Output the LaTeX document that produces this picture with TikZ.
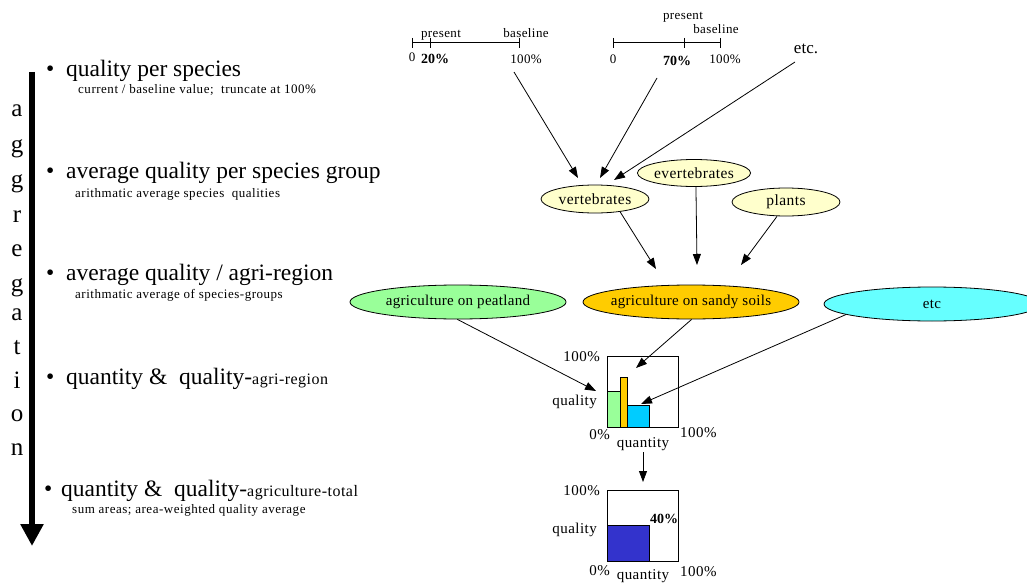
\documentclass[tikz,border=0pt]{standalone}
\usepackage{fontspec}
\setmainfont{Liberation Serif}
\usetikzlibrary{shapes.geometric,arrows.meta}
\definecolor{ylw}{HTML}{FFFFCC}
\definecolor{peat}{HTML}{99FF99}
\definecolor{sandy}{HTML}{FFCC00}
\definecolor{etcc}{HTML}{66FFFF}
\definecolor{cyanbar}{HTML}{00CCFF}
\definecolor{bluebar}{HTML}{3333CC}
\newcommand{\spc}[1]{\addfontfeature{LetterSpace=#1}}
\tikzset{
  big/.style={font=\fontsize{23.5}{26}\selectfont, anchor=base west, inner sep=0},
  sub/.style={font=\fontsize{13}{15}\selectfont\spc{4}, anchor=base west, inner sep=0},
  agg/.style={font=\fontsize{25}{27}\selectfont, anchor=base, inner sep=0},
  sm/.style={font=\fontsize{13}{15}\selectfont\spc{3}, inner sep=0},
  lbl/.style={font=\fontsize{15}{17}\selectfont\spc{3}, inner sep=0},
  grp/.style={ellipse, draw, line width=0.8pt, fill=ylw, minimum width=108, minimum height=28, inner sep=0, font=\fontsize{15.5}{17}\selectfont\spc{3}},
  reg/.style={ellipse, draw, line width=0.8pt, minimum width=216, minimum height=34, inner xsep=-12pt, inner ysep=0pt, font=\fontsize{15}{17}\selectfont\spc{2}},
  arr/.style={line width=0.8pt, -{Triangle[length=11pt,width=8pt]}},
  axis/.style={line width=1pt},
}
\begin{document}
\begin{tikzpicture}[x=1pt,y=-1pt]
\useasboundingbox (0,0) rectangle (1027,583);
% aggregation arrow
\coordinate (at) at (32,72);
\coordinate (ab) at (32,546);
\draw[line width=6pt, -{Triangle[length=22pt,width=22pt]}] (at) -- (ab);
\foreach \l/\y in {a/117, g/152, g/187, r/222, e/256, g/291, a/320, t/354, i/388, o/421, n/455}
  \node[agg] at (17,\y) {\l};
% bullet texts
\node[big] (b1) at (46,77) {\textbullet};
\node[big] (t1) at (66,77) {quality per species};
\node[sub] (s1) at (78,94) {current / baseline value;\ \ truncate at 100\%};
\node[big] (b2) at (46,178) {\textbullet};
\node[big] (t2) at (66,178) {average quality per species group};
\node[sub] (s2) at (75,197) {arithmatic average species\ \ qualities};
\node[big] (b3) at (46,280) {\textbullet};
\node[big] (t3) at (66,280) {average quality / agri-region};
\node[sub] (s3) at (75,298) {arithmatic average of species-groups};
\node[big] (b4) at (46,384) {\textbullet};
\node[big] (t4) at (66,384) {quantity \&\ \ quality-{\fontsize{16}{18}\selectfont\spc{3}agri-region}};
\node[big] (b5) at (44,496) {\textbullet};
\node[big] (t5) at (61,496) {quantity \&\ \ quality-{\fontsize{16}{18}\selectfont\spc{3}agriculture-total}};
\node[sub] (s5) at (72,513) {sum areas; area-weighted quality average};
% scale 1
\draw[axis] (412,43) -- (519,43);
\foreach \x in {412,430,519} \draw[axis] (\x,38) -- (\x,48);
\node[sm, anchor=base] (p1) at (441,38) {present};
\node[sm, anchor=base] (bl1) at (526,38) {baseline};
\node[sm, anchor=base] (z1) at (412,62) {0};
\node[sm, anchor=base, font=\fontsize{14}{16}\selectfont\bfseries] (v1) at (435,64) {20\%};
\node[sm, anchor=base] (h1) at (526,64) {100\%};
% scale 2
\draw[axis] (613,43) -- (720,43);
\foreach \x in {613,684,720} \draw[axis] (\x,38) -- (\x,48);
\node[sm, anchor=base] (p2) at (683,20) {present};
\node[sm, anchor=base] (bl2) at (716,34) {baseline};
\node[sm, anchor=base] (z2) at (613,64) {0};
\node[sm, anchor=base, font=\fontsize{14}{16}\selectfont\bfseries] (v2) at (677,66) {70\%};
\node[sm, anchor=base] (h2) at (725,64) {100\%};
\node[font=\fontsize{17}{19}\selectfont, anchor=base, inner sep=0] (etc1) at (806,54) {etc.};
% group ellipses
\node[grp] (vert) at (595,199) {vertebrates};
\node[grp, minimum height=27] (evert) at (694,173) {evertebrates};
\node[grp] (plants) at (786,202) {plants};
% region ellipses
\node[reg, fill=peat] (peat) at (458,302) {agriculture on peatland};
\node[reg, fill=sandy] (sandy) at (691,302) {agriculture on sandy soils};
\node[reg, fill=etcc] (etc2) at (932,304) {etc};
% arrows top
\coordinate (s1a) at (514,72);
\coordinate (s2a) at (657,78);
\coordinate (e1a) at (795,62);
\coordinate (v1e) at (578,178);
\coordinate (v2e) at (600,178);
\coordinate (v3e) at (614,180);
\draw[arr] (s1a) -- (v1e);
\draw[arr] (s2a) -- (v2e);
\draw[arr] (e1a) -- (v3e);
\coordinate (g1e) at (656,269);
\coordinate (g2e) at (697,265);
\coordinate (g3e) at (741,265);
\draw[arr] (vert.-27) -- (g1e);
\draw[arr] (evert.-82) -- (g2e);
\draw[arr] (plants.-122) -- (g3e);
% chart 1
\fill[peat] (607,391) rectangle (620,427);
\draw[line width=0.8pt] (607,391) rectangle (620,427);
\fill[sandy] (620,377) rectangle (627,427);
\draw[line width=0.8pt] (620,377) rectangle (627,427);
\fill[cyanbar] (627,405) rectangle (649,427);
\draw[line width=0.8pt] (627,405) rectangle (649,427);
\node[draw, line width=0.8pt, anchor=north west, minimum width=71, minimum height=71, inner sep=0] (c1) at (607,356) {};
\node[lbl, anchor=base east] (c1top) at (600,361) {100\%};
\node[lbl, anchor=base east] (c1q) at (597,405) {quality};
\node[lbl, anchor=base east] (c1z) at (610,439) {0\%};
\node[lbl, anchor=base] (c1x) at (643,447) {quantity};
\node[lbl, anchor=base west] (c1r) at (680,437) {100\%};
\coordinate (pe) at (596,391);
\coordinate (se) at (636,368);
\coordinate (ee) at (641,404);
\draw[arr] (peat.-92) -- (pe);
\draw[arr] (sandy.-88) -- (se);
\draw[arr] (etc2.-173) -- (ee);
% chart 2
\fill[bluebar] (607,525) rectangle (649,561);
\draw[line width=0.8pt] (607,525) rectangle (649,561);
\node[draw, line width=0.8pt, anchor=north west, minimum width=71, minimum height=71, inner sep=0] (c2) at (607,490) {};
\node[lbl, anchor=base, font=\fontsize{14}{16}\selectfont\bfseries] (c2v) at (664,523) {40\%};
\node[lbl, anchor=base east] (c2top) at (600,495) {100\%};
\node[lbl, anchor=base east] (c2q) at (597,533) {quality};
\node[lbl, anchor=base east] (c2z) at (610,575) {0\%};
\node[lbl, anchor=base] (c2x) at (643,579) {quantity};
\node[lbl, anchor=base west] (c2r) at (680,576) {100\%};
\coordinate (c1b) at (643,452);
\coordinate (c2a) at (643,482);
\draw[arr] (c1b) -- (c2a);
\end{tikzpicture}
\end{document}
